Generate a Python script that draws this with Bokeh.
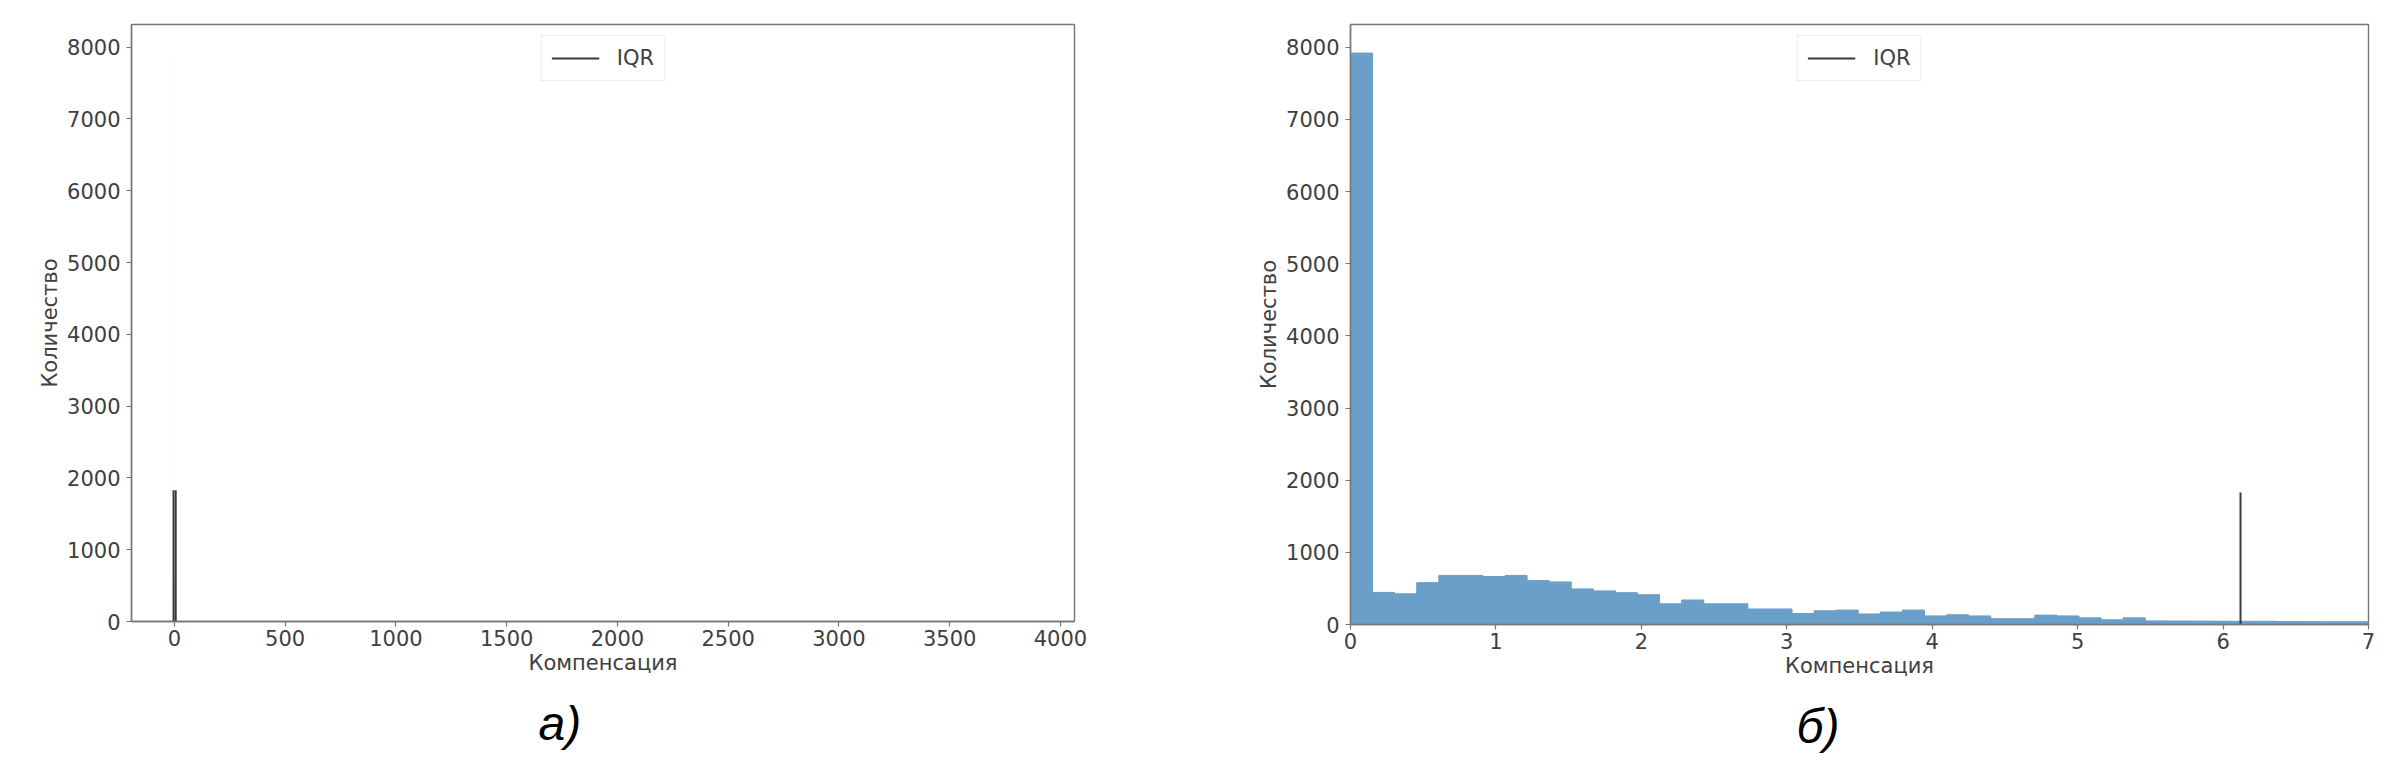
from bokeh.plotting import figure
from bokeh.layouts import row
from bokeh.models import Range1d, SingleIntervalTicker, Title, Legend, LegendItem
from bokeh.embed import file_html
from bokeh.resources import INLINE

# ---------------- data ----------------
bin_width = 0.1518
counts = [7920, 445, 425, 580, 680, 680, 665, 680, 610, 590,
          493, 466, 441, 413, 287, 340, 287, 287, 215, 215,
          152, 190, 200, 146, 173, 200, 119, 135, 119, 81,
          81, 130, 119, 92, 65, 92, 50, 48, 47, 46,
          45, 44, 40, 39, 38, 38, 37, 36, 35, 35]
max_compensation = 3870          # largest value in the full data set
iqr_bounds = [-3.67, 6.12]       # Q1 - 1.5*IQR, Q3 + 1.5*IQR
iqr_height = 1830
x_label = "Компенсация"
y_label = "Количество"
panel_labels = ["а)", "б)"]
legend_label = "IQR"

left_edges = [i * bin_width for i in range(len(counts))]
right_edges = [e + bin_width for e in left_edges]
y_top = max(counts) * 1.05

BAR = "#6a9fc9"
AX = "#767676"
TXT = "#404040"
FONT = "DejaVu Sans"


def make_panel(x_range, x_interval, frame_w, frame_h, b_left, b_right, b_top,
               label, label_offset, bar_outline):
    p = figure(frame_width=frame_w, frame_height=frame_h, x_range=x_range,
               y_range=Range1d(0, y_top), output_backend="svg",
               toolbar_location=None, title=None,
               min_border_left=b_left, min_border_right=b_right,
               min_border_top=b_top, min_border_bottom=0)
    p.background_fill_color = "white"
    p.border_fill_color = "white"
    p.xgrid.visible = False
    p.ygrid.visible = False
    p.outline_line_color = AX
    p.outline_line_width = 1.4

    p.quad(left=left_edges, right=right_edges, bottom=0, top=counts,
           fill_color=BAR, line_color=BAR if bar_outline else None,
           line_width=1)
    r = p.segment(x0=iqr_bounds, y0=0, x1=iqr_bounds, y1=iqr_height,
                  line_color="#3a3a3a", line_width=2)

    p.xaxis.ticker = SingleIntervalTicker(interval=x_interval)
    p.yaxis.ticker = SingleIntervalTicker(interval=1000)
    p.xaxis.axis_label = x_label
    p.yaxis.axis_label = y_label
    for ax in (p.xaxis, p.yaxis):
        ax.axis_line_color = AX
        ax.axis_line_width = 1.4
        ax.major_tick_line_color = AX
        ax.major_tick_line_width = 1.2
        ax.major_tick_in = 0
        ax.major_tick_out = 5
        ax.minor_tick_line_color = None
        ax.major_label_text_font = FONT
        ax.major_label_text_font_size = "21px"
        ax.major_label_text_color = TXT
        ax.axis_label_text_font = FONT
        ax.axis_label_text_font_size = "21px"
        ax.axis_label_text_font_style = "normal"
        ax.axis_label_text_color = TXT
    p.xaxis.major_label_standoff = 3
    p.xaxis.axis_label_standoff = 2
    p.yaxis.major_label_standoff = 6
    p.yaxis.axis_label_standoff = 2

    legend = Legend(items=[LegendItem(label=legend_label, renderers=[r])],
                    location="top_center", margin=11, padding=10,
                    glyph_width=48, glyph_height=20, label_standoff=18,
                    label_text_font=FONT, label_text_font_size="21px",
                    label_text_color=TXT, border_line_color="#dddddd",
                    border_line_width=1, background_fill_alpha=0.8,
                    spacing=0)
    p.add_layout(legend)

    p.add_layout(Title(text=label, align="left", offset=label_offset,
                       text_font="Liberation Sans", text_font_style="italic",
                       text_font_size="48px", text_color="black",
                       standoff=34), "below")
    return p


pad = 0.05 * max_compensation
p1 = make_panel(Range1d(-pad, max_compensation + pad), 500, 943, 597,
                131, 150, 24, panel_labels[0], 407, False)
p2 = make_panel(Range1d(0, 7), 1, 1018, 600, 126, 16, 18,
                panel_labels[1], 446, True)

layout = row(p1, p2)
open("out.html", "w").write(file_html(layout, INLINE))
